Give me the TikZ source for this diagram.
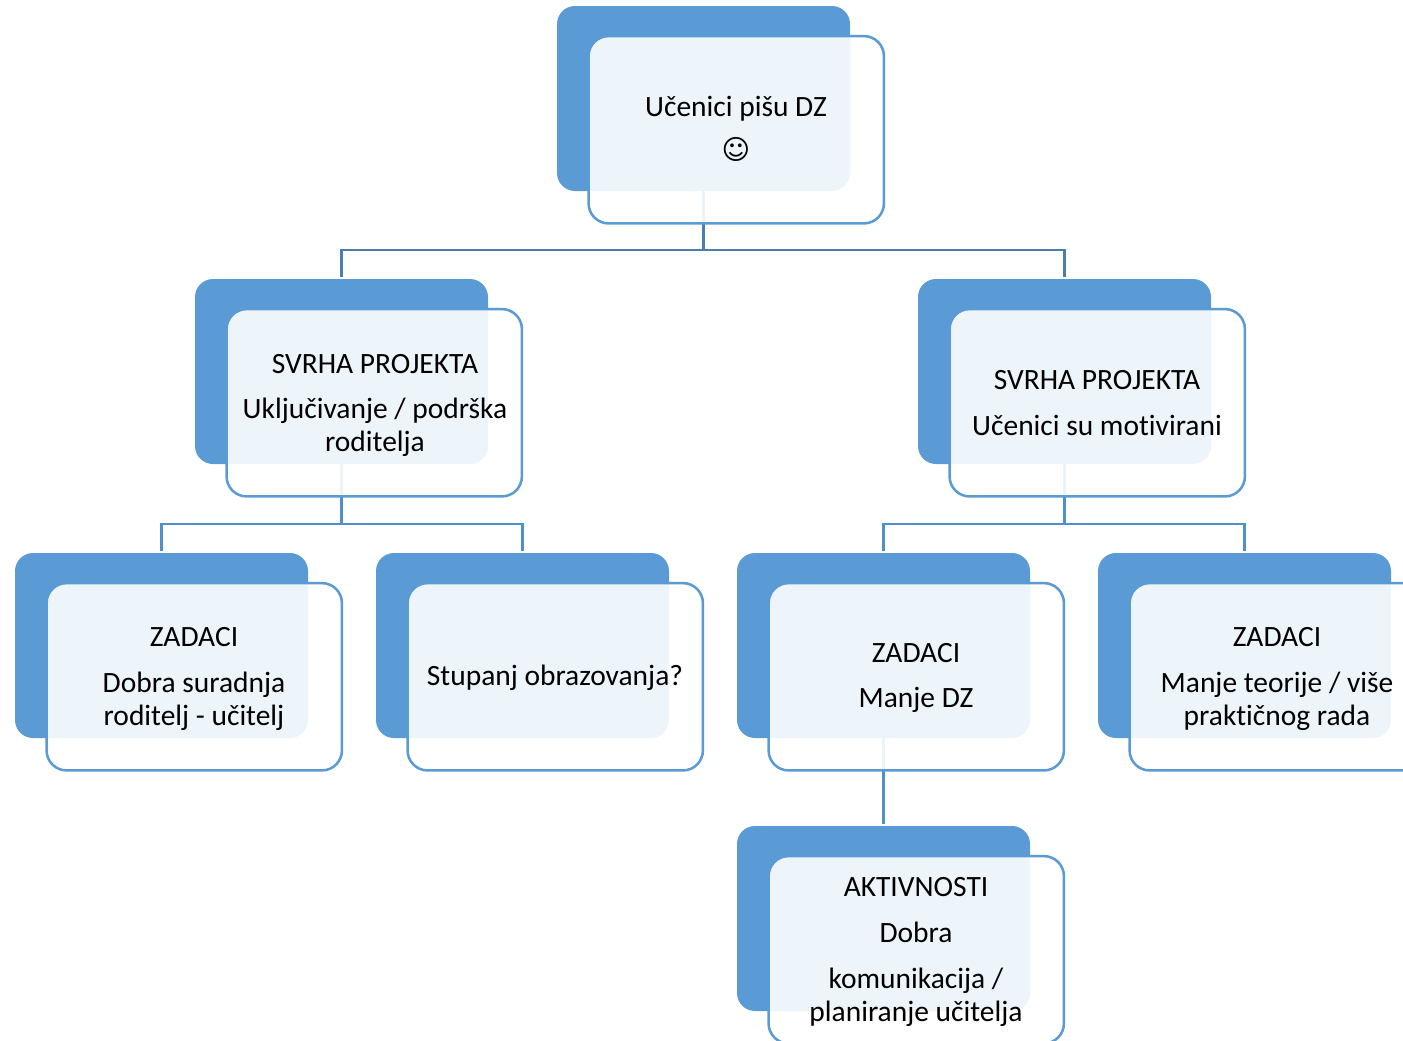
\documentclass[tikz,border=0pt]{standalone}
\usepackage{fontspec}
\setmainfont{Carlito}[Ligatures=CommonOff]
\newfontfamily\symfont{DejaVu Sans}
\usetikzlibrary{backgrounds}
\definecolor{oblue}{HTML}{5B9BD5}
\definecolor{lineA}{HTML}{4A7EAE}
\definecolor{lineB}{HTML}{5090C8}
\tikzset{
  backbox/.style={rectangle,rounded corners=13.5pt,fill=oblue,draw=none,minimum width=219.75pt,minimum height=138.75pt,inner sep=0pt,outer sep=0pt},
  frontbox/.style={rectangle,rounded corners=15pt,draw=oblue,line width=1.9pt,fill=white,fill opacity=.9,draw opacity=1,minimum width=221.5pt,minimum height=140.5pt,inner sep=0pt,outer sep=0pt},
  label/.style={align=center,font=\fontsize{22.1}{24.75}\selectfont,text=black,inner sep=0pt},
  linkA/.style={draw=lineA,line width=2pt,shorten >=1.5pt},
  linkB/.style={draw=lineB,line width=2pt,shorten >=1.5pt}
}
\newcommand{\orgunit}[3]{%
  \node[backbox] (#1) at (#2+146.5,#3+92.5) {};
  \node[frontbox] (#1f) at (#2+179.25,#3+123.75) {};
}
\begin{document}
\begin{tikzpicture}[x=0.75pt,y=-0.75pt]
\useasboundingbox (0,0) rectangle (1403,1040);
\clip (0,0) rectangle (1403,1040);
\orgunit{top}{557}{6}
\orgunit{purposeA}{195}{279}
\orgunit{purposeB}{918}{279}
\orgunit{taskA}{15}{553}
\orgunit{taskB}{376}{553}
\orgunit{taskC}{737}{553}
\orgunit{taskD}{1098}{553}
\orgunit{activity}{737}{826}
\node[label] (ttop) at (736,129) {Učenici pišu DZ\\[7.5pt]{\symfont\fontsize{20.6}{24.75}\selectfont ☺}};
\node[label] (tpurposeA) at (375,405.5) {SVRHA PROJEKTA\\[9.5pt]Uključivanje / podrška\\roditelja};
\node[label] (tpurposeB) at (1097,403) {SVRHA PROJEKTA\\[9.5pt]Učenici su motivirani};
\node[label] (ttaskA) at (194,679) {ZADACI\\[9.5pt]Dobra suradnja\\roditelj - učitelj};
\node[label] (ttaskB) at (555,677.5) {Stupanj obrazovanja?};
\node[label] (ttaskC) at (916,678) {ZADACI\\[9.5pt]Manje DZ};
\node[label] (ttaskD) at (1277,679) {ZADACI\\[9.5pt]Manje teorije / više\\praktičnog rada};
\node[label] (tactivity) at (916,952) {AKTIVNOSTI\\[9.5pt]Dobra\\[9.5pt]komunikacija /\\planiranje učitelja};
\begin{scope}[on background layer]
\draw[linkA] (top.south) -- ++(0,59) -| (purposeA.north);
\draw[linkA] (top.south) -- ++(0,59) -| (purposeB.north);
\draw[linkB] (purposeA.south) -- ++(0,60) -| (taskA.north);
\draw[linkB] (purposeA.south) -- ++(0,60) -| (taskB.north);
\draw[linkB] (purposeB.south) -- ++(0,60) -| (taskC.north);
\draw[linkB] (purposeB.south) -- ++(0,60) -| (taskD.north);
\draw[linkB] (taskC.south) -- (activity.north);
\end{scope}
\end{tikzpicture}
\end{document}
